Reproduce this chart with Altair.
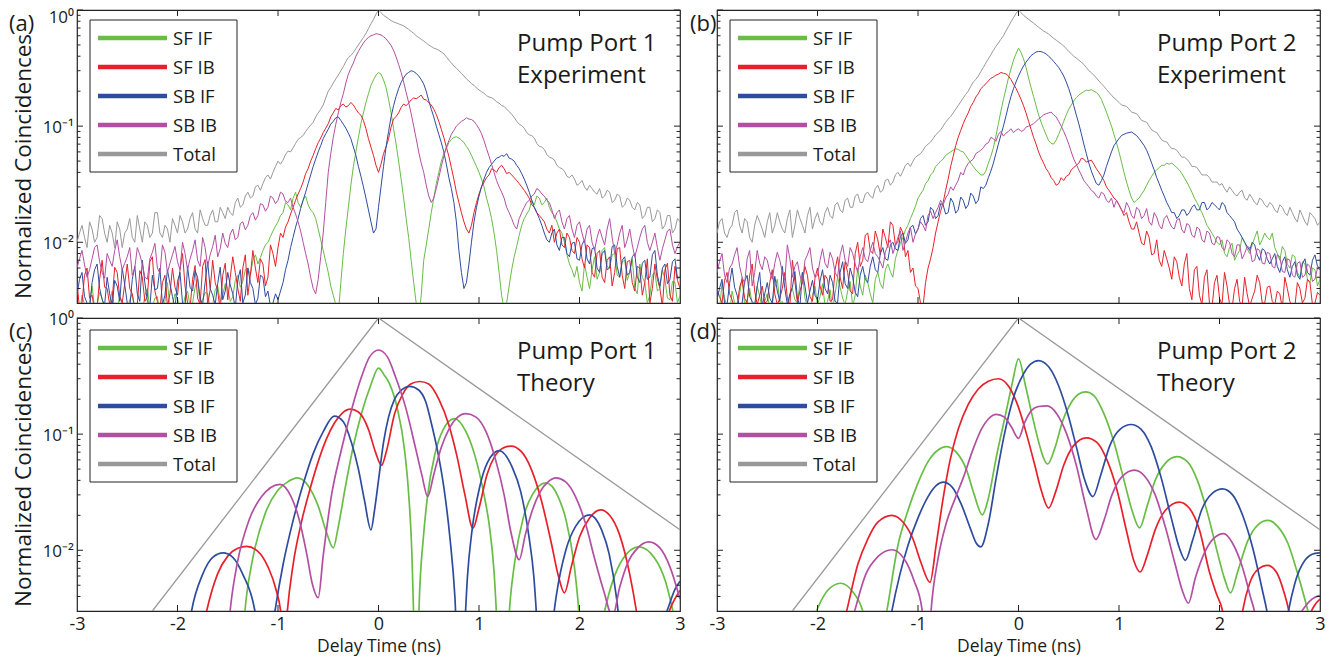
import altair as alt
import pandas as pd

FONT = "Open Sans"
INK = "#1a1a1a"
NAMES = ["SF IF", "SF IB", "SB IF", "SB IB", "Total"]
COLORS = {"SF IF": "#68BD45", "SF IB": "#E8202A", "SB IF": "#2E4C9F",
          "SB IB": "#B34FA2", "Total": "#999999"}

# ---------------- delay-time bins of the measured histograms (ns) ----------------
T_EXP = [-3.0, -2.975, -2.95, -2.925, -2.9, -2.875, -2.85, -2.825, -2.8, -2.775, -2.75, -2.725, -2.7, -2.675, -2.65, -2.625, -2.6, -2.575, -2.55, -2.525,
         -2.5, -2.475, -2.45, -2.425, -2.4, -2.375, -2.35, -2.325, -2.3, -2.275, -2.25, -2.225, -2.2, -2.175, -2.15, -2.125, -2.1, -2.075, -2.05, -2.025,
         -2.0, -1.975, -1.95, -1.925, -1.9, -1.875, -1.85, -1.825, -1.8, -1.775, -1.75, -1.725, -1.7, -1.675, -1.65, -1.625, -1.6, -1.575, -1.55, -1.525,
         -1.5, -1.475, -1.45, -1.425, -1.4, -1.375, -1.35, -1.325, -1.3, -1.275, -1.25, -1.225, -1.2, -1.175, -1.15, -1.125, -1.1, -1.075, -1.05, -1.025,
         -1.0, -0.975, -0.95, -0.925, -0.9, -0.875, -0.85, -0.825, -0.8, -0.775, -0.75, -0.725, -0.7, -0.675, -0.65, -0.625, -0.6, -0.575, -0.55, -0.525,
         -0.5, -0.475, -0.45, -0.425, -0.4, -0.375, -0.35, -0.325, -0.3, -0.275, -0.25, -0.225, -0.2, -0.175, -0.15, -0.125, -0.1, -0.075, -0.05, -0.025,
         0.0, 0.025, 0.05, 0.075, 0.1, 0.125, 0.15, 0.175, 0.2, 0.225, 0.25, 0.275, 0.3, 0.325, 0.35, 0.375, 0.4, 0.425, 0.45, 0.475,
         0.5, 0.525, 0.55, 0.575, 0.6, 0.625, 0.65, 0.675, 0.7, 0.725, 0.75, 0.775, 0.8, 0.825, 0.85, 0.875, 0.9, 0.925, 0.95, 0.975,
         1.0, 1.025, 1.05, 1.075, 1.1, 1.125, 1.15, 1.175, 1.2, 1.225, 1.25, 1.275, 1.3, 1.325, 1.35, 1.375, 1.4, 1.425, 1.45, 1.475,
         1.5, 1.525, 1.55, 1.575, 1.6, 1.625, 1.65, 1.675, 1.7, 1.725, 1.75, 1.775, 1.8, 1.825, 1.85, 1.875, 1.9, 1.925, 1.95, 1.975,
         2.0, 2.025, 2.05, 2.075, 2.1, 2.125, 2.15, 2.175, 2.2, 2.225, 2.25, 2.275, 2.3, 2.325, 2.35, 2.375, 2.4, 2.425, 2.45, 2.475,
         2.5, 2.525, 2.55, 2.575, 2.6, 2.625, 2.65, 2.675, 2.7, 2.725, 2.75, 2.775, 2.8, 2.825, 2.85, 2.875, 2.9, 2.925, 2.95, 2.975,
         3.0]

# ---------------- (a) Pump Port 1, experiment ----------------
A_SFIF = [0.0028, 0.0024, 0.0035, 0.0029, 0.0026, 0.0031, 0.0042, 0.0027, 0.0029, 0.0037, 0.0033, 0.0025, 0.0025, 0.0030, 0.0038, 0.0026, 0.0027, 0.0034, 0.0031, 0.0024,
          0.0026, 0.0032, 0.0036, 0.0025, 0.0029, 0.0027, 0.0025, 0.0035, 0.0040, 0.0026, 0.0028, 0.0033, 0.0034, 0.0024, 0.0026, 0.0031, 0.0045, 0.0027, 0.0029, 0.0036,
          0.0033, 0.0026, 0.0027, 0.0034, 0.0038, 0.0028, 0.0030, 0.0041, 0.0048, 0.0029, 0.0032, 0.0037, 0.0036, 0.0027, 0.0029, 0.0039, 0.0042, 0.0031, 0.0035, 0.0044,
          0.0040, 0.0031, 0.0034, 0.0047, 0.0052, 0.0041, 0.0046, 0.0058, 0.0060, 0.0052, 0.0070, 0.0078, 0.0065, 0.0074, 0.0085, 0.0095, 0.0100, 0.0112, 0.0125, 0.0138,
          0.015, 0.017, 0.018, 0.022, 0.021, 0.019, 0.024, 0.027, 0.022, 0.020, 0.023, 0.025, 0.021, 0.019, 0.018, 0.016, 0.013, 0.0105, 0.0085, 0.0068,
          0.0055, 0.0042, 0.0035, 0.0029, 0.0024, 0.0045, 0.0080, 0.013, 0.020, 0.031, 0.045, 0.060, 0.080, 0.105, 0.130, 0.160, 0.190, 0.225, 0.250, 0.275,
          0.290, 0.280, 0.250, 0.215, 0.170, 0.130, 0.095, 0.070, 0.050, 0.035, 0.024, 0.016, 0.011, 0.0070, 0.0045, 0.0030, 0.0022, 0.0035, 0.0070, 0.0095,
          0.013, 0.018, 0.024, 0.032, 0.040, 0.050, 0.058, 0.064, 0.072, 0.077, 0.080, 0.081, 0.079, 0.076, 0.072, 0.067, 0.062, 0.056, 0.050, 0.045,
          0.040, 0.035, 0.030, 0.024, 0.020, 0.016, 0.012, 0.0085, 0.0055, 0.0035, 0.0026, 0.0030, 0.0042, 0.0058, 0.0075, 0.0092, 0.0115, 0.0140, 0.0160, 0.0175,
          0.019, 0.023, 0.021, 0.025, 0.024, 0.021, 0.022, 0.024, 0.020, 0.018, 0.017, 0.015, 0.013, 0.012, 0.010, 0.0078, 0.0065, 0.0058, 0.0050, 0.0062,
          0.0045, 0.0038, 0.0065, 0.0050, 0.0040, 0.0058, 0.0075, 0.0048, 0.0055, 0.0085, 0.0090, 0.0062, 0.0060, 0.0078, 0.0080, 0.0052, 0.0050, 0.0068, 0.0070, 0.0047,
          0.0055, 0.0072, 0.0040, 0.0036, 0.0065, 0.0050, 0.0045, 0.0030, 0.0035, 0.0052, 0.0055, 0.0038, 0.0040, 0.0058, 0.0048, 0.0033, 0.0032, 0.0046, 0.0045, 0.0030,
          0.0035]
A_SFIB = [0.0045, 0.0027, 0.0030, 0.0052, 0.0060, 0.0033, 0.0035, 0.0026, 0.0028, 0.0048, 0.0070, 0.0041, 0.0040, 0.0029, 0.0032, 0.0061, 0.0055, 0.0034, 0.0030, 0.0044,
          0.0065, 0.0040, 0.0036, 0.0027, 0.0029, 0.0057, 0.0050, 0.0031, 0.0034, 0.0068, 0.0075, 0.0038, 0.0031, 0.0026, 0.0045, 0.0052, 0.0028, 0.0036, 0.0060, 0.0041,
          0.0035, 0.0058, 0.0080, 0.0042, 0.0030, 0.0027, 0.0048, 0.0063, 0.0033, 0.0029, 0.0062, 0.0071, 0.0029, 0.0039, 0.0070, 0.0045, 0.0038, 0.0026, 0.0052, 0.0066,
          0.0032, 0.0050, 0.0075, 0.0055, 0.0040, 0.0031, 0.0060, 0.0078, 0.0035, 0.0052, 0.0085, 0.0060, 0.0045, 0.0072, 0.0065, 0.0042, 0.0050, 0.0095, 0.0080, 0.0062,
          0.0090, 0.0120, 0.0110, 0.0135, 0.0150, 0.0175, 0.0200, 0.0230, 0.0260, 0.0290, 0.0330, 0.0390, 0.0430, 0.0500, 0.0560, 0.0640, 0.0720, 0.0790, 0.0880, 0.0960,
          0.105, 0.120, 0.130, 0.142, 0.138, 0.150, 0.155, 0.146, 0.150, 0.160, 0.152, 0.140, 0.130, 0.124, 0.112, 0.095, 0.078, 0.066, 0.056, 0.046,
          0.040, 0.047, 0.058, 0.066, 0.078, 0.098, 0.115, 0.121, 0.130, 0.145, 0.155, 0.150, 0.158, 0.168, 0.175, 0.172, 0.178, 0.185, 0.170, 0.168,
          0.160, 0.152, 0.140, 0.126, 0.110, 0.094, 0.080, 0.066, 0.055, 0.044, 0.035, 0.027, 0.022, 0.018, 0.015, 0.013, 0.012, 0.014, 0.018, 0.022,
          0.026, 0.030, 0.033, 0.036, 0.038, 0.043, 0.042, 0.040, 0.044, 0.046, 0.043, 0.039, 0.040, 0.038, 0.036, 0.034, 0.032, 0.030, 0.028, 0.026,
          0.024, 0.021, 0.020, 0.018, 0.017, 0.016, 0.015, 0.013, 0.012, 0.014, 0.010, 0.012, 0.013, 0.0095, 0.009, 0.012, 0.011, 0.0085, 0.008, 0.011,
          0.010, 0.0072, 0.006, 0.0095, 0.009, 0.0055, 0.005, 0.0080, 0.0085, 0.0050, 0.0045, 0.0070, 0.0075, 0.0042, 0.0055, 0.0088, 0.0090, 0.0052, 0.0040, 0.0068,
          0.0070, 0.0045, 0.0038, 0.0062, 0.0060, 0.0035, 0.0045, 0.0072, 0.0030, 0.0040, 0.0065, 0.0048, 0.0040, 0.0028, 0.0058, 0.0066, 0.0035, 0.0031, 0.0062, 0.0047,
          0.0040]
A_SBIF = [0.0035, 0.0048, 0.0055, 0.0034, 0.0030, 0.0026, 0.0045, 0.0058, 0.0065, 0.0040, 0.0032, 0.0029, 0.0050, 0.0036, 0.0028, 0.0047, 0.0042, 0.0031, 0.0060, 0.0043,
          0.0030, 0.0027, 0.0048, 0.0062, 0.0036, 0.0031, 0.0070, 0.0045, 0.0031, 0.0028, 0.0052, 0.0039, 0.0040, 0.0060, 0.0029, 0.0035, 0.0058, 0.0044, 0.0034, 0.0027,
          0.0046, 0.0055, 0.0030, 0.0028, 0.0062, 0.0041, 0.0038, 0.0057, 0.0050, 0.0033, 0.0029, 0.0045, 0.0068, 0.0040, 0.0035, 0.0029, 0.0044, 0.0061, 0.0032, 0.0038,
          0.0055, 0.0043, 0.0036, 0.0027, 0.0048, 0.0058, 0.0030, 0.0035, 0.0060, 0.0045, 0.0040, 0.0029, 0.0033, 0.0052, 0.0050, 0.0034, 0.0038, 0.0028, 0.0030, 0.0036,
          0.0032, 0.0038, 0.0045, 0.0058, 0.0070, 0.0090, 0.0110, 0.0135, 0.0160, 0.0195, 0.0230, 0.0270, 0.0320, 0.0380, 0.0450, 0.0520, 0.0600, 0.0680, 0.0780, 0.0860,
          0.094, 0.104, 0.110, 0.118, 0.120, 0.112, 0.104, 0.096, 0.087, 0.078, 0.066, 0.056, 0.045, 0.037, 0.030, 0.024, 0.019, 0.015, 0.012, 0.013,
          0.020, 0.030, 0.045, 0.066, 0.090, 0.120, 0.150, 0.180, 0.210, 0.238, 0.260, 0.280, 0.290, 0.300, 0.295, 0.285, 0.270, 0.252, 0.230, 0.200,
          0.165, 0.140, 0.120, 0.100, 0.085, 0.072, 0.060, 0.047, 0.036, 0.029, 0.022, 0.015, 0.0085, 0.0055, 0.0040, 0.0045, 0.0065, 0.0100, 0.0150, 0.0200,
          0.025, 0.030, 0.035, 0.040, 0.044, 0.047, 0.050, 0.053, 0.054, 0.056, 0.055, 0.058, 0.053, 0.052, 0.050, 0.046, 0.043, 0.039, 0.035, 0.031,
          0.027, 0.023, 0.020, 0.018, 0.016, 0.014, 0.012, 0.0105, 0.010, 0.012, 0.013, 0.0095, 0.0085, 0.011, 0.011, 0.0080, 0.0075, 0.0098, 0.010, 0.0072,
          0.0070, 0.0095, 0.0105, 0.0072, 0.0065, 0.0088, 0.0090, 0.0060, 0.0055, 0.0080, 0.0085, 0.0058, 0.0060, 0.0092, 0.0095, 0.0062, 0.0050, 0.0070, 0.0075, 0.0052,
          0.0055, 0.0075, 0.0080, 0.0050, 0.0045, 0.0066, 0.0070, 0.0048, 0.0050, 0.0078, 0.0085, 0.0052, 0.0042, 0.0060, 0.0065, 0.0044, 0.0048, 0.0068, 0.0072, 0.0049,
          0.0050]
A_SBIB = [0.0060, 0.0072, 0.0085, 0.0064, 0.0050, 0.0058, 0.0072, 0.0090, 0.0095, 0.0068, 0.0055, 0.0049, 0.0080, 0.0070, 0.0062, 0.0085, 0.0105, 0.0075, 0.0058, 0.0066,
          0.0075, 0.0090, 0.0052, 0.0060, 0.0090, 0.0078, 0.0065, 0.0050, 0.0048, 0.0072, 0.0082, 0.0098, 0.0060, 0.0054, 0.0095, 0.0082, 0.0055, 0.0066, 0.0078, 0.0092,
          0.0068, 0.0058, 0.0100, 0.0080, 0.0058, 0.0072, 0.0085, 0.0105, 0.0070, 0.0062, 0.0110, 0.0090, 0.0062, 0.0078, 0.0092, 0.0115, 0.0075, 0.0088, 0.0120, 0.0098,
          0.0090, 0.0118, 0.0130, 0.0105, 0.0110, 0.0145, 0.0150, 0.0128, 0.0140, 0.0170, 0.0180, 0.0155, 0.0170, 0.0215, 0.0210, 0.0185, 0.0200, 0.0250, 0.0240, 0.0215,
          0.0230, 0.0270, 0.0260, 0.0225, 0.0220, 0.0240, 0.0200, 0.0175, 0.0150, 0.0125, 0.0100, 0.0080, 0.0065, 0.0050, 0.0040, 0.0036, 0.0048, 0.0075, 0.0120, 0.0220,
          0.040, 0.058, 0.080, 0.104, 0.130, 0.160, 0.190, 0.235, 0.280, 0.315, 0.350, 0.400, 0.440, 0.480, 0.520, 0.555, 0.580, 0.600, 0.610, 0.625,
          0.620, 0.610, 0.590, 0.565, 0.530, 0.495, 0.450, 0.395, 0.340, 0.290, 0.240, 0.195, 0.160, 0.128, 0.100, 0.078, 0.060, 0.048, 0.040, 0.031,
          0.025, 0.022, 0.024, 0.029, 0.036, 0.045, 0.055, 0.066, 0.075, 0.085, 0.092, 0.100, 0.105, 0.110, 0.113, 0.118, 0.115, 0.114, 0.110, 0.103,
          0.095, 0.086, 0.075, 0.064, 0.055, 0.047, 0.040, 0.034, 0.030, 0.027, 0.024, 0.020, 0.018, 0.016, 0.014, 0.013, 0.016, 0.018, 0.020, 0.022,
          0.023, 0.025, 0.026, 0.029, 0.028, 0.026, 0.025, 0.023, 0.022, 0.019, 0.016, 0.018, 0.019, 0.015, 0.013, 0.016, 0.017, 0.013, 0.011, 0.014,
          0.015, 0.012, 0.010, 0.013, 0.014, 0.010, 0.0085, 0.011, 0.013, 0.011, 0.0095, 0.013, 0.016, 0.011, 0.0080, 0.0095, 0.012, 0.014, 0.0090, 0.0105,
          0.013, 0.0095, 0.0075, 0.0090, 0.011, 0.013, 0.0140, 0.0100, 0.0085, 0.0100, 0.012, 0.0090, 0.0070, 0.0088, 0.0105, 0.0125, 0.0130, 0.0095, 0.0080, 0.0092,
          0.0100]
A_TOTAL = [0.010, 0.012, 0.014, 0.011, 0.009, 0.015, 0.013, 0.010, 0.011, 0.017, 0.016, 0.012, 0.010, 0.014, 0.012, 0.009, 0.015, 0.013, 0.009, 0.012,
           0.013, 0.016, 0.011, 0.010, 0.017, 0.013, 0.010, 0.015, 0.014, 0.011, 0.012, 0.018, 0.018, 0.012, 0.011, 0.014, 0.013, 0.010, 0.016, 0.014,
           0.012, 0.017, 0.015, 0.012, 0.013, 0.016, 0.018, 0.013, 0.012, 0.019, 0.016, 0.014, 0.014, 0.017, 0.019, 0.015, 0.015, 0.020, 0.018, 0.016,
           0.020, 0.018, 0.017, 0.022, 0.024, 0.020, 0.021, 0.025, 0.027, 0.024, 0.025, 0.030, 0.031, 0.028, 0.032, 0.036, 0.038, 0.035, 0.040, 0.045,
           0.050, 0.047, 0.051, 0.057, 0.061, 0.060, 0.065, 0.071, 0.077, 0.080, 0.083, 0.090, 0.096, 0.102, 0.108, 0.120, 0.130, 0.140, 0.152, 0.175,
           0.200, 0.215, 0.235, 0.255, 0.275, 0.300, 0.325, 0.360, 0.390, 0.405, 0.430, 0.465, 0.500, 0.540, 0.580, 0.630, 0.690, 0.760, 0.830, 0.920,
           1.000, 0.950, 0.900, 0.870, 0.840, 0.810, 0.790, 0.775, 0.760, 0.745, 0.730, 0.705, 0.680, 0.655, 0.630, 0.600, 0.580, 0.560, 0.540, 0.520,
           0.500, 0.485, 0.470, 0.462, 0.450, 0.435, 0.420, 0.395, 0.370, 0.350, 0.330, 0.315, 0.300, 0.285, 0.270, 0.255, 0.245, 0.232, 0.225, 0.213,
           0.205, 0.198, 0.192, 0.183, 0.178, 0.176, 0.170, 0.162, 0.158, 0.150, 0.148, 0.140, 0.133, 0.127, 0.119, 0.110, 0.104, 0.101, 0.096, 0.088,
           0.084, 0.083, 0.079, 0.071, 0.067, 0.066, 0.063, 0.057, 0.054, 0.053, 0.051, 0.046, 0.044, 0.043, 0.041, 0.037, 0.036, 0.038, 0.035, 0.031,
           0.032, 0.034, 0.030, 0.028, 0.031, 0.029, 0.027, 0.026, 0.029, 0.024, 0.025, 0.028, 0.027, 0.022, 0.023, 0.026, 0.025, 0.020, 0.021, 0.024,
           0.023, 0.020, 0.019, 0.022, 0.021, 0.016, 0.017, 0.020, 0.020, 0.015, 0.016, 0.019, 0.018, 0.013, 0.014, 0.017, 0.017, 0.012, 0.013, 0.016,
           0.015]

# ---------------- (b) Pump Port 2, experiment ----------------
B_SFIF = [0.0030, 0.0026, 0.0045, 0.0033, 0.0028, 0.0024, 0.0038, 0.0030, 0.0026, 0.0036, 0.0050, 0.0029, 0.0032, 0.0040, 0.0029, 0.0025, 0.0042, 0.0034, 0.0027, 0.0031,
          0.0036, 0.0027, 0.0029, 0.0041, 0.0048, 0.0030, 0.0031, 0.0026, 0.0027, 0.0035, 0.0040, 0.0032, 0.0030, 0.0044, 0.0055, 0.0033, 0.0028, 0.0025, 0.0035, 0.0042,
          0.0029, 0.0034, 0.0044, 0.0028, 0.0031, 0.0039, 0.0027, 0.0036, 0.0050, 0.0041, 0.0033, 0.0029, 0.0038, 0.0046, 0.0028, 0.0035, 0.0060, 0.0042, 0.0035, 0.0052,
          0.0045, 0.0036, 0.0030, 0.0048, 0.0055, 0.0044, 0.0040, 0.0058, 0.0065, 0.0056, 0.0050, 0.0072, 0.0085, 0.0098, 0.0110, 0.0128, 0.0140, 0.0160, 0.0180, 0.0205,
          0.024, 0.026, 0.028, 0.032, 0.034, 0.038, 0.040, 0.045, 0.047, 0.050, 0.052, 0.056, 0.058, 0.060, 0.062, 0.064, 0.063, 0.061, 0.060, 0.056,
          0.052, 0.048, 0.045, 0.042, 0.040, 0.038, 0.038, 0.041, 0.048, 0.055, 0.065, 0.082, 0.105, 0.135, 0.170, 0.210, 0.260, 0.310, 0.370, 0.420,
          0.470, 0.430, 0.380, 0.320, 0.260, 0.215, 0.180, 0.150, 0.125, 0.108, 0.095, 0.084, 0.075, 0.071, 0.070, 0.076, 0.085, 0.096, 0.110, 0.125,
          0.140, 0.152, 0.165, 0.176, 0.185, 0.192, 0.198, 0.204, 0.203, 0.206, 0.200, 0.195, 0.185, 0.170, 0.150, 0.132, 0.115, 0.100, 0.085, 0.072,
          0.060, 0.049, 0.040, 0.033, 0.028, 0.024, 0.022, 0.023, 0.024, 0.026, 0.028, 0.031, 0.034, 0.037, 0.040, 0.042, 0.044, 0.046, 0.046, 0.048,
          0.047, 0.048, 0.046, 0.044, 0.042, 0.039, 0.036, 0.033, 0.030, 0.027, 0.024, 0.022, 0.020, 0.018, 0.016, 0.014, 0.013, 0.012, 0.011, 0.0100,
          0.0095, 0.0105, 0.0080, 0.0075, 0.0090, 0.0098, 0.0070, 0.0078, 0.0085, 0.0110, 0.0100, 0.0088, 0.0080, 0.0095, 0.0110, 0.0125, 0.0095, 0.0105, 0.0120, 0.0110,
          0.0105, 0.0120, 0.0090, 0.0080, 0.0070, 0.0092, 0.0085, 0.0065, 0.0060, 0.0078, 0.0075, 0.0055, 0.0050, 0.0068, 0.0065, 0.0048, 0.0045, 0.0060, 0.0058, 0.0042,
          0.0048]
B_SFIB = [0.0040, 0.0034, 0.0030, 0.0047, 0.0055, 0.0036, 0.0032, 0.0027, 0.0028, 0.0041, 0.0048, 0.0033, 0.0030, 0.0052, 0.0065, 0.0038, 0.0029, 0.0035, 0.0042, 0.0030,
          0.0031, 0.0045, 0.0058, 0.0036, 0.0029, 0.0033, 0.0040, 0.0055, 0.0033, 0.0028, 0.0070, 0.0046, 0.0030, 0.0038, 0.0045, 0.0062, 0.0052, 0.0034, 0.0031, 0.0049,
          0.0060, 0.0042, 0.0035, 0.0052, 0.0048, 0.0031, 0.0032, 0.0058, 0.0075, 0.0050, 0.0040, 0.0068, 0.0055, 0.0038, 0.0036, 0.0080, 0.0100, 0.0062, 0.0070, 0.0115,
          0.0120, 0.0085, 0.0080, 0.0125, 0.0105, 0.0078, 0.0130, 0.0110, 0.0090, 0.0150, 0.0140, 0.0095, 0.0100, 0.0135, 0.0120, 0.0075, 0.0085, 0.0055, 0.0060, 0.0042,
          0.0040, 0.0030, 0.0028, 0.0045, 0.0060, 0.0072, 0.0090, 0.0120, 0.0150, 0.0185, 0.0220, 0.0280, 0.0350, 0.0450, 0.0550, 0.0680, 0.0800, 0.0920, 0.1050, 0.1180,
          0.130, 0.148, 0.160, 0.178, 0.190, 0.210, 0.220, 0.232, 0.245, 0.258, 0.265, 0.275, 0.280, 0.290, 0.285, 0.282, 0.270, 0.252, 0.230, 0.212,
          0.190, 0.170, 0.150, 0.130, 0.110, 0.094, 0.080, 0.070, 0.060, 0.053, 0.048, 0.043, 0.040, 0.036, 0.034, 0.031, 0.032, 0.036, 0.034, 0.037,
          0.038, 0.042, 0.044, 0.046, 0.048, 0.053, 0.052, 0.049, 0.050, 0.051, 0.047, 0.043, 0.040, 0.037, 0.034, 0.030, 0.028, 0.026, 0.024, 0.023,
          0.021, 0.019, 0.017, 0.018, 0.015, 0.013, 0.013, 0.015, 0.012, 0.0098, 0.0095, 0.0125, 0.0110, 0.0078, 0.0080, 0.0105, 0.0070, 0.0062, 0.0085, 0.0072,
          0.0060, 0.0048, 0.0075, 0.0068, 0.0050, 0.0042, 0.0065, 0.0080, 0.0040, 0.0032, 0.0058, 0.0062, 0.0035, 0.0029, 0.0050, 0.0058, 0.0030, 0.0027, 0.0045, 0.0052,
          0.0033, 0.0029, 0.0055, 0.0042, 0.0029, 0.0027, 0.0040, 0.0048, 0.0031, 0.0028, 0.0050, 0.0036, 0.0028, 0.0033, 0.0038, 0.0052, 0.0045, 0.0030, 0.0030, 0.0041,
          0.0042, 0.0031, 0.0029, 0.0038, 0.0036, 0.0027, 0.0050, 0.0040, 0.0031, 0.0028, 0.0028, 0.0045, 0.0040, 0.0030, 0.0033, 0.0048, 0.0045, 0.0029, 0.0030, 0.0037,
          0.0035]
B_SBIF = [0.0032, 0.0040, 0.0048, 0.0030, 0.0029, 0.0044, 0.0060, 0.0041, 0.0035, 0.0027, 0.0030, 0.0046, 0.0052, 0.0034, 0.0031, 0.0029, 0.0042, 0.0055, 0.0028, 0.0036,
          0.0045, 0.0033, 0.0030, 0.0051, 0.0038, 0.0031, 0.0062, 0.0040, 0.0029, 0.0036, 0.0041, 0.0056, 0.0033, 0.0028, 0.0055, 0.0042, 0.0030, 0.0038, 0.0047, 0.0035,
          0.0032, 0.0046, 0.0058, 0.0040, 0.0036, 0.0052, 0.0045, 0.0031, 0.0030, 0.0055, 0.0068, 0.0044, 0.0040, 0.0060, 0.0050, 0.0037, 0.0034, 0.0052, 0.0062, 0.0048,
          0.0045, 0.0062, 0.0075, 0.0058, 0.0055, 0.0080, 0.0090, 0.0072, 0.0070, 0.0095, 0.0100, 0.0088, 0.0085, 0.0112, 0.0120, 0.0098, 0.0105, 0.0135, 0.0140, 0.0118,
          0.0130, 0.0160, 0.0170, 0.0140, 0.0150, 0.0200, 0.0190, 0.0160, 0.0170, 0.0215, 0.0210, 0.0175, 0.0180, 0.0240, 0.0220, 0.0178, 0.0190, 0.0245, 0.0230, 0.0195,
          0.0210, 0.0265, 0.0250, 0.0215, 0.0230, 0.0300, 0.0290, 0.0310, 0.0360, 0.0410, 0.0480, 0.0580, 0.0700, 0.0840, 0.1000, 0.1220, 0.1500, 0.1800, 0.2100, 0.2400,
          0.270, 0.300, 0.330, 0.355, 0.380, 0.405, 0.420, 0.435, 0.440, 0.438, 0.430, 0.418, 0.400, 0.382, 0.360, 0.340, 0.320, 0.295, 0.270, 0.240,
          0.210, 0.180, 0.150, 0.125, 0.105, 0.086, 0.070, 0.058, 0.048, 0.041, 0.036, 0.032, 0.031, 0.034, 0.038, 0.045, 0.052, 0.060, 0.068, 0.073,
          0.078, 0.083, 0.085, 0.087, 0.088, 0.089, 0.086, 0.083, 0.078, 0.073, 0.068, 0.062, 0.055, 0.048, 0.042, 0.036, 0.032, 0.028, 0.025, 0.022,
          0.020, 0.018, 0.018, 0.016, 0.017, 0.019, 0.019, 0.017, 0.018, 0.020, 0.021, 0.019, 0.019, 0.022, 0.022, 0.019, 0.020, 0.022, 0.021, 0.020,
          0.019, 0.022, 0.021, 0.018, 0.017, 0.016, 0.015, 0.013, 0.012, 0.011, 0.010, 0.0092, 0.0085, 0.0100, 0.0095, 0.0078, 0.0070, 0.0088, 0.0085, 0.0072,
          0.0065, 0.0072, 0.0080, 0.0062, 0.0055, 0.0068, 0.0075, 0.0058, 0.0050, 0.0062, 0.0068, 0.0052, 0.0048, 0.0065, 0.0072, 0.0055, 0.0052, 0.0070, 0.0078, 0.0062,
          0.0060]
B_SBIB = [0.0055, 0.0068, 0.0080, 0.0052, 0.0045, 0.0060, 0.0065, 0.0078, 0.0090, 0.0062, 0.0050, 0.0044, 0.0072, 0.0085, 0.0042, 0.0055, 0.0085, 0.0066, 0.0058, 0.0075,
          0.0070, 0.0056, 0.0048, 0.0066, 0.0082, 0.0070, 0.0055, 0.0047, 0.0095, 0.0072, 0.0050, 0.0062, 0.0068, 0.0052, 0.0044, 0.0070, 0.0078, 0.0090, 0.0060, 0.0050,
          0.0052, 0.0070, 0.0088, 0.0066, 0.0060, 0.0082, 0.0072, 0.0055, 0.0050, 0.0078, 0.0095, 0.0070, 0.0062, 0.0090, 0.0080, 0.0065, 0.0055, 0.0075, 0.0090, 0.0072,
          0.0068, 0.0085, 0.0100, 0.0080, 0.0075, 0.0068, 0.0060, 0.0082, 0.0095, 0.0105, 0.0080, 0.0092, 0.0110, 0.0125, 0.0085, 0.0100, 0.0120, 0.0135, 0.0100, 0.0118,
          0.0130, 0.0150, 0.0140, 0.0125, 0.0170, 0.0185, 0.0160, 0.0180, 0.0200, 0.0230, 0.0210, 0.0240, 0.0260, 0.0300, 0.0280, 0.0310, 0.0340, 0.0400, 0.0380, 0.0440,
          0.0480, 0.0500, 0.0520, 0.0580, 0.0600, 0.0620, 0.0650, 0.0700, 0.0720, 0.0800, 0.0780, 0.0740, 0.0850, 0.0900, 0.0820, 0.0870, 0.0900, 0.0950, 0.0880, 0.0920,
          0.0950, 0.0900, 0.0920, 0.0980, 0.1000, 0.1020, 0.1050, 0.1100, 0.1150, 0.1200, 0.1250, 0.1280, 0.1300, 0.1320, 0.1250, 0.1200, 0.1100, 0.1000, 0.0900, 0.0800,
          0.0700, 0.0600, 0.0520, 0.0470, 0.0420, 0.0380, 0.0340, 0.0320, 0.0300, 0.0280, 0.0270, 0.0250, 0.0240, 0.0270, 0.0260, 0.0230, 0.0220, 0.0240, 0.0200, 0.0230,
          0.0210, 0.0190, 0.0180, 0.0220, 0.0200, 0.0170, 0.0160, 0.0200, 0.0190, 0.0160, 0.0170, 0.0195, 0.0150, 0.0140, 0.0180, 0.0165, 0.0140, 0.0130, 0.0160, 0.0170,
          0.0150, 0.0135, 0.0130, 0.0155, 0.0160, 0.0128, 0.0120, 0.0145, 0.0140, 0.0115, 0.0110, 0.0135, 0.0130, 0.0105, 0.0100, 0.0125, 0.0120, 0.0098, 0.0095, 0.0112,
          0.0110, 0.0090, 0.0085, 0.0105, 0.0100, 0.0080, 0.0075, 0.0095, 0.0095, 0.0072, 0.0080, 0.0092, 0.0090, 0.0068, 0.0070, 0.0088, 0.0085, 0.0066, 0.0065, 0.0082,
          0.0080, 0.0062, 0.0060, 0.0078, 0.0075, 0.0056, 0.0055, 0.0072, 0.0070, 0.0052, 0.0050, 0.0066, 0.0068, 0.0050, 0.0052, 0.0065, 0.0062, 0.0046, 0.0048, 0.0060,
          0.0058]
B_TOTAL = [0.012, 0.015, 0.016, 0.012, 0.011, 0.013, 0.014, 0.018, 0.019, 0.014, 0.012, 0.016, 0.015, 0.011, 0.010, 0.014, 0.017, 0.015, 0.013, 0.011,
           0.015, 0.018, 0.012, 0.014, 0.018, 0.015, 0.013, 0.012, 0.016, 0.019, 0.011, 0.014, 0.019, 0.016, 0.014, 0.012, 0.017, 0.020, 0.013, 0.016,
           0.018, 0.015, 0.014, 0.018, 0.020, 0.017, 0.016, 0.021, 0.022, 0.019, 0.018, 0.023, 0.024, 0.020, 0.020, 0.025, 0.026, 0.022, 0.022, 0.026,
           0.027, 0.025, 0.024, 0.029, 0.031, 0.027, 0.028, 0.034, 0.035, 0.031, 0.033, 0.038, 0.040, 0.037, 0.041, 0.046, 0.048, 0.045, 0.050, 0.054,
           0.056, 0.058, 0.062, 0.067, 0.070, 0.073, 0.078, 0.084, 0.088, 0.093, 0.100, 0.108, 0.115, 0.121, 0.130, 0.140, 0.150, 0.162, 0.175, 0.188,
           0.200, 0.220, 0.240, 0.252, 0.270, 0.295, 0.320, 0.350, 0.380, 0.412, 0.450, 0.485, 0.520, 0.560, 0.600, 0.660, 0.720, 0.790, 0.860, 0.930,
           1.000, 0.950, 0.900, 0.865, 0.830, 0.800, 0.770, 0.740, 0.710, 0.685, 0.660, 0.640, 0.620, 0.595, 0.570, 0.550, 0.530, 0.510, 0.490, 0.465,
           0.440, 0.420, 0.400, 0.385, 0.370, 0.355, 0.340, 0.320, 0.300, 0.288, 0.275, 0.260, 0.245, 0.232, 0.220, 0.207, 0.195, 0.185, 0.175, 0.168,
           0.160, 0.152, 0.150, 0.148, 0.140, 0.132, 0.130, 0.128, 0.120, 0.112, 0.110, 0.108, 0.100, 0.093, 0.090, 0.088, 0.082, 0.076, 0.074, 0.073,
           0.068, 0.064, 0.064, 0.062, 0.058, 0.054, 0.054, 0.052, 0.049, 0.045, 0.045, 0.044, 0.041, 0.038, 0.038, 0.038, 0.036, 0.033, 0.033, 0.033,
           0.031, 0.032, 0.029, 0.027, 0.030, 0.028, 0.026, 0.025, 0.027, 0.028, 0.024, 0.023, 0.026, 0.024, 0.022, 0.021, 0.024, 0.023, 0.021, 0.020,
           0.022, 0.021, 0.019, 0.018, 0.021, 0.020, 0.018, 0.017, 0.020, 0.018, 0.016, 0.015, 0.019, 0.017, 0.015, 0.014, 0.018, 0.017, 0.016, 0.014,
           0.015]

# ---------------- (c) Pump Port 1, theory: (delay ns, coincidences) ----------------
C_SFIF = [(-1.44, 0.0003), (-1.377, 0.0010), (-1.314, 0.0040), (-1.25, 0.0086), (-1.125, 0.021),
          (-1.0, 0.033), (-0.9, 0.039), (-0.81, 0.042), (-0.7, 0.036), (-0.6, 0.024), (-0.52, 0.0145),
          (-0.45, 0.0105), (-0.40, 0.016), (-0.33, 0.035), (-0.25, 0.079), (-0.17, 0.15), (-0.08, 0.26),
          (0.0, 0.37), (0.06, 0.32), (0.111, 0.27), (0.185, 0.17), (0.26, 0.072), (0.296, 0.034),
          (0.333, 0.009), (0.352, 0.0023), (0.37, 0.0003), (0.389, 0.0008), (0.404, 0.0033),
          (0.447, 0.013), (0.485, 0.028), (0.5625, 0.068), (0.64, 0.108), (0.755, 0.136), (0.87, 0.105),
          (0.96, 0.065), (1.05, 0.03), (1.104, 0.016), (1.15, 0.0065), (1.18, 0.0022), (1.22, 0.0003),
          (1.265, 0.0009), (1.309, 0.0036), (1.354, 0.0078), (1.44, 0.019), (1.53, 0.030), (1.665, 0.038),
          (1.787, 0.029), (1.8675, 0.018), (1.949, 0.0072), (1.989, 0.0033), (2.03, 0.0009), (2.07, 0.0003),
          (2.12, 0.0005), (2.17, 0.0013), (2.226, 0.0024), (2.33, 0.0054), (2.434, 0.0085), (2.59, 0.0107),
          (2.75, 0.0085), (2.855, 0.0054), (2.93, 0.003), (3.0, 0.0016)]
C_SFIB = [(-1.8, 0.0012), (-1.71, 0.003), (-1.6, 0.0063), (-1.5, 0.0089), (-1.4, 0.0104), (-1.31, 0.0108),
          (-1.2, 0.0098), (-1.1, 0.0072), (-1.02, 0.0046), (-0.97, 0.0028), (-0.94, 0.0012), (-0.91, 0.0028),
          (-0.85, 0.0075), (-0.77, 0.017), (-0.68, 0.034), (-0.6, 0.058), (-0.52, 0.09), (-0.44, 0.124),
          (-0.36, 0.152), (-0.28, 0.164), (-0.2, 0.155), (-0.1, 0.11), (-0.03, 0.07), (0.03, 0.054),
          (0.08, 0.072), (0.16, 0.15), (0.24, 0.22), (0.32, 0.27), (0.41, 0.284), (0.5, 0.27), (0.6, 0.2),
          (0.7, 0.12), (0.78, 0.065), (0.86, 0.03), (0.94, 0.0155), (1.0, 0.023), (1.08, 0.045),
          (1.16, 0.065), (1.24, 0.076), (1.32, 0.079), (1.42, 0.071), (1.52, 0.05), (1.62, 0.027),
          (1.72, 0.0115), (1.79, 0.006), (1.85, 0.0043), (1.92, 0.0073), (2.0, 0.013), (2.1, 0.019),
          (2.21, 0.0223), (2.3, 0.02), (2.4, 0.0135), (2.5, 0.0062), (2.58, 0.0025), (2.67, 0.0006),
          (2.75, 0.0009), (2.82, 0.0019), (2.9, 0.0031), (3.0, 0.0045)]
C_SBIF = [(-1.95, 0.0008), (-1.86, 0.003), (-1.75, 0.0062), (-1.65, 0.0087), (-1.545, 0.0095),
          (-1.45, 0.0087), (-1.35, 0.0062), (-1.23, 0.003), (-1.18, 0.0015), (-1.13, 0.0004),
          (-1.08, 0.0015), (-1.03, 0.003), (-0.95, 0.0075), (-0.85, 0.018), (-0.75, 0.037), (-0.65, 0.068),
          (-0.55, 0.105), (-0.44, 0.143), (-0.35, 0.128), (-0.27, 0.085), (-0.2, 0.05), (-0.14, 0.027),
          (-0.075, 0.015), (-0.04, 0.022), (0.0, 0.04), (0.05, 0.085), (0.1, 0.14), (0.16, 0.2),
          (0.23, 0.24), (0.31, 0.258), (0.4, 0.24), (0.47, 0.19), (0.53, 0.12), (0.59, 0.07), (0.65, 0.035),
          (0.71, 0.013), (0.76, 0.004), (0.815, 0.0003), (0.85, 0.0015), (0.885, 0.0059), (0.93, 0.0147),
          (1.01, 0.036), (1.085, 0.057), (1.2, 0.072), (1.33, 0.052), (1.415, 0.032), (1.5, 0.0126),
          (1.545, 0.006), (1.59, 0.0015), (1.63, 0.0003), (1.68, 0.0009), (1.72, 0.0019), (1.77, 0.0041),
          (1.865, 0.0101), (1.96, 0.016), (2.1, 0.0202), (2.22, 0.015), (2.295, 0.0093), (2.37, 0.0038),
          (2.41, 0.0018), (2.49, 0.0003), (2.6, 0.0008), (2.75, 0.0018), (2.87, 0.003), (2.95, 0.0046),
          (3.0, 0.0054)]
C_SBIB = [(-1.59, 0.0003), (-1.53, 0.0009), (-1.468, 0.0035), (-1.407, 0.0076), (-1.285, 0.0185),
          (-1.163, 0.029), (-0.98, 0.037), (-0.87, 0.029), (-0.79, 0.0185), (-0.714, 0.0093), (-0.66, 0.0052),
          (-0.6, 0.0039), (-0.55, 0.009), (-0.47, 0.029), (-0.37, 0.073), (-0.27, 0.16), (-0.17, 0.31),
          (-0.09, 0.46), (0.0, 0.53), (0.09, 0.46), (0.17, 0.31), (0.27, 0.17), (0.37, 0.075), (0.43, 0.045),
          (0.49, 0.029), (0.55, 0.045), (0.62, 0.075), (0.7, 0.11), (0.78, 0.138), (0.87, 0.15), (0.97, 0.14),
          (1.07, 0.105), (1.17, 0.058), (1.25, 0.03), (1.32, 0.014), (1.4, 0.0083), (1.46, 0.0135),
          (1.53, 0.022), (1.61, 0.032), (1.69, 0.039), (1.765, 0.042), (1.86, 0.039), (1.96, 0.029),
          (2.06, 0.017), (2.15, 0.0085), (2.24, 0.0045), (2.33, 0.0027), (2.4, 0.0048), (2.48, 0.0078),
          (2.58, 0.0105), (2.69, 0.0118), (2.8, 0.0105), (2.9, 0.0072), (3.0, 0.0038)]
C_TOTAL = [(-2.25, 0.003), (0.0, 1.0), (3.0, 0.015)]

# ---------------- (d) Pump Port 2, theory ----------------
D_SFIF = [(-2.1, 0.0018), (-2.01, 0.003), (-1.9, 0.0045), (-1.77, 0.0052), (-1.65, 0.0044), (-1.55, 0.003),
          (-1.48, 0.0016), (-1.43, 0.0005), (-1.37, 0.0016), (-1.31, 0.003), (-1.2, 0.011), (-1.1, 0.022),
          (-1.0, 0.038), (-0.9, 0.058), (-0.8, 0.073), (-0.72, 0.078), (-0.62, 0.07), (-0.52, 0.05),
          (-0.44, 0.03), (-0.36, 0.0202), (-0.3, 0.028), (-0.22, 0.064), (-0.12, 0.16), (-0.06, 0.28),
          (0.0, 0.445), (0.07, 0.26), (0.14, 0.14), (0.21, 0.08), (0.25, 0.062), (0.29, 0.0553), (0.36, 0.075),
          (0.44, 0.13), (0.53, 0.19), (0.6, 0.222), (0.668, 0.231), (0.75, 0.215), (0.85, 0.15), (0.95, 0.085),
          (1.05, 0.04), (1.13, 0.022), (1.205, 0.0156), (1.28, 0.024), (1.36, 0.04), (1.46, 0.056),
          (1.576, 0.064), (1.68, 0.058), (1.78, 0.04), (1.88, 0.021), (1.98, 0.0095), (2.05, 0.0057),
          (2.11, 0.0043), (2.18, 0.0065), (2.28, 0.012), (2.38, 0.0165), (2.48, 0.0181), (2.58, 0.016),
          (2.68, 0.0115), (2.78, 0.0062), (2.88, 0.003), (2.95, 0.0017), (3.0, 0.001)]
D_SFIB = [(-1.8, 0.0015), (-1.71, 0.003), (-1.6, 0.0075), (-1.5, 0.0125), (-1.4, 0.0175), (-1.26, 0.020),
          (-1.15, 0.0175), (-1.05, 0.0125), (-0.97, 0.0078), (-0.88, 0.0053), (-0.82, 0.011), (-0.75, 0.028),
          (-0.68, 0.06), (-0.6, 0.11), (-0.5, 0.18), (-0.4, 0.245), (-0.3, 0.285), (-0.2, 0.30), (-0.1, 0.26),
          (0.0, 0.17), (0.08, 0.1), (0.16, 0.055), (0.23, 0.032), (0.3, 0.0231), (0.37, 0.032), (0.45, 0.054),
          (0.55, 0.08), (0.675, 0.093), (0.78, 0.085), (0.88, 0.06), (0.98, 0.033), (1.08, 0.014),
          (1.15, 0.008), (1.21, 0.0065), (1.28, 0.009), (1.36, 0.015), (1.46, 0.022), (1.6, 0.026),
          (1.7, 0.023), (1.8, 0.015), (1.9, 0.0065), (1.97, 0.0042), (2.03, 0.003), (2.08, 0.0015),
          (2.13, 0.0004), (2.18, 0.0015), (2.23, 0.003), (2.3, 0.0052), (2.38, 0.0068), (2.48, 0.0074),
          (2.57, 0.0064), (2.64, 0.0044), (2.69, 0.003), (2.74, 0.0015), (2.79, 0.0004), (2.84, 0.0015),
          (2.89, 0.0026), (2.95, 0.0034), (3.0, 0.0038)]
D_SBIF = [(-1.32, 0.0015), (-1.26, 0.003), (-1.18, 0.0062), (-1.1, 0.011), (-1.0, 0.019), (-0.9, 0.029),
          (-0.82, 0.036), (-0.75, 0.0386), (-0.66, 0.035), (-0.57, 0.025), (-0.48, 0.0155), (-0.42, 0.0115),
          (-0.375, 0.0107), (-0.3, 0.017), (-0.22, 0.043), (-0.14, 0.1), (-0.055, 0.2), (0.05, 0.33),
          (0.12, 0.4), (0.2, 0.43), (0.3, 0.38), (0.4, 0.26), (0.5, 0.14), (0.58, 0.075), (0.66, 0.04),
          (0.74, 0.029), (0.82, 0.045), (0.91, 0.08), (1.01, 0.11), (1.12, 0.121), (1.22, 0.11), (1.32, 0.078),
          (1.42, 0.042), (1.52, 0.019), (1.6, 0.0105), (1.66, 0.0082), (1.73, 0.012), (1.82, 0.022),
          (1.93, 0.031), (2.03, 0.0338), (2.13, 0.03), (2.23, 0.02), (2.33, 0.0105), (2.42, 0.0048),
          (2.5, 0.0022), (2.58, 0.0006), (2.66, 0.0022), (2.75, 0.0052), (2.85, 0.0082), (2.95, 0.0094),
          (3.0, 0.0095)]
D_SBIB = [(-1.72, 0.0015), (-1.63, 0.003), (-1.52, 0.0062), (-1.4, 0.0088), (-1.26, 0.0101), (-1.14, 0.0085),
          (-1.04, 0.0055), (-0.96, 0.0031), (-0.91, 0.0008), (-0.87, 0.003), (-0.8, 0.0085), (-0.72, 0.017),
          (-0.63, 0.028), (-0.55, 0.042), (-0.45, 0.075), (-0.37, 0.11), (-0.3, 0.135), (-0.22, 0.148),
          (-0.14, 0.14), (-0.07, 0.115), (0.0, 0.092), (0.06, 0.125), (0.13, 0.16), (0.2, 0.173),
          (0.283, 0.175), (0.38, 0.15), (0.48, 0.1), (0.58, 0.052), (0.67, 0.024), (0.77, 0.0124),
          (0.85, 0.018), (0.93, 0.03), (1.03, 0.043), (1.153, 0.049), (1.26, 0.043), (1.36, 0.03),
          (1.46, 0.016), (1.56, 0.0075), (1.63, 0.0045), (1.69, 0.0035), (1.76, 0.0058), (1.85, 0.0095),
          (1.94, 0.0126), (2.04, 0.0139), (2.13, 0.0115), (2.22, 0.0075), (2.3, 0.0042), (2.38, 0.002),
          (2.43, 0.0006), (2.5, 0.0008), (2.6, 0.0012), (2.72, 0.0021), (2.82, 0.003), (2.92, 0.0038),
          (3.0, 0.0041)]
D_TOTAL = [(-2.25, 0.003), (0.0, 1.0), (3.0, 0.015)]

# ---------------- axes furniture ----------------
X_TICKS = [-2, -1, 0, 1, 2]
X_LABELS = [-3, -2, -1, 0, 1, 2, 3]
Y_MAJOR = [1, 0.1, 0.01]
Y_TEXT = ["10\u2070", "10\u207b\u00b9", "10\u207b\u00b2"]
Y_MINOR = [0.004, 0.005, 0.006, 0.007, 0.008, 0.009,
           0.02, 0.03, 0.04, 0.05, 0.06, 0.07, 0.08, 0.09,
           0.2, 0.3, 0.4, 0.5, 0.6, 0.7, 0.8, 0.9]

for s in (A_SFIF, A_SFIB, A_SBIF, A_SBIB, A_TOTAL, B_SFIF, B_SFIB, B_SBIF, B_SBIB, B_TOTAL):
    assert len(s) == len(T_EXP), len(s)

W, H = 603, 293
XS = alt.Scale(domain=[-3, 3], nice=False, zero=False)
YS = alt.Scale(type="log", domain=[0.003, 1], nice=False)
ONE = pd.DataFrame({"k": [0]})


def make_panel(series, theory, caption, letter, letter_x, left, bottom, top_row):
    if bottom:
        xaxis = alt.Axis(values=X_LABELS, labelExpr="'' + datum.value", ticks=False, domain=False,
                         grid=False, labelFont=FONT, labelFontSize=18, labelColor=INK,
                         labelPadding=4, labelFlush=False, title="Delay Time (ns)", titleFont=FONT,
                         titleFontSize=17.5, titleFontWeight="normal", titleColor=INK, titlePadding=4)
    else:
        xaxis = None

    def X():
        return alt.X("t:Q", scale=XS, axis=xaxis)

    def Y():
        return alt.Y("v:Q", scale=YS, axis=None)

    layers = []
    for name, df in series:
        if theory:
            sw = 1.3 if name == "Total" else 1.7
            interp = "linear" if name == "Total" else "monotone"
        else:
            sw, interp = 1.0, "linear"
        layers.append(alt.Chart(df).mark_line(color=COLORS[name], strokeWidth=sw,
                                              interpolate=interp, clip=True)
                      .encode(x=X(), y=Y()))

    # inward ticks on all four sides
    xt = pd.DataFrame({"t": X_TICKS})
    for y0, y1 in [(H, H - 6), (0, 6)]:
        layers.append(alt.Chart(xt).mark_rule(color="#222", strokeWidth=1)
                      .encode(x=X(), y=alt.value(y0), y2=alt.value(y1)))
    for vals, ln in [(Y_MAJOR, 6), (Y_MINOR, 3.5)]:
        yt = pd.DataFrame({"v": vals})
        for x0, x1 in [(0, ln), (W, W - ln)]:
            layers.append(alt.Chart(yt).mark_rule(color="#222", strokeWidth=1)
                          .encode(y=Y(), x=alt.value(x0), x2=alt.value(x1)))

    # legend box
    off = 2 if theory else 0
    layers.append(alt.Chart(ONE).mark_rect(fill="white", stroke="#222", strokeWidth=1)
                  .encode(x=alt.value(13), x2=alt.value(160), y=alt.value(10 + off),
                          y2=alt.value(162 + off)))
    for i, name in enumerate(NAMES):
        yy = 28 + off + 29 * i
        layers.append(alt.Chart(ONE).mark_rule(color=COLORS[name], strokeWidth=4.5)
                      .encode(x=alt.value(21), x2=alt.value(90), y=alt.value(yy)))
        layers.append(alt.Chart(ONE).mark_text(text=name, font=FONT, fontSize=18.5, align="left",
                                               baseline="middle", color=INK)
                      .encode(x=alt.value(96), y=alt.value(yy + 1)))

    # captions
    for j, line in enumerate(caption):
        layers.append(alt.Chart(ONE).mark_text(text=line, font=FONT, fontSize=24, align="left",
                                               baseline="alphabetic", color=INK)
                      .encode(x=alt.value(440), y=alt.value(41 + 32 * j)))
    layers.append(alt.Chart(ONE).mark_text(text=letter, font=FONT, fontSize=22, align="left",
                                           baseline="alphabetic", color=INK)
                  .encode(x=alt.value(letter_x), y=alt.value(21)))

    if left:
        ydf = pd.DataFrame({"v": Y_MAJOR, "lab": Y_TEXT})
        if top_row:
            groups = [(ydf.iloc[:1], 8), (ydf.iloc[1:], 1.5)]
        else:
            groups = [(ydf, 1.5)]
        for sub, dyy in groups:
            layers.append(alt.Chart(sub).mark_text(font=FONT, fontSize=17, align="right",
                                                   baseline="middle", dy=dyy, color=INK)
                          .encode(y=Y(), x=alt.value(-3), text="lab:N"))
        layers.append(alt.Chart(ONE).mark_text(text="Normalized Coincidences", font=FONT,
                                               fontSize=22.5, angle=270, align="center",
                                               baseline="middle", color=INK)
                      .encode(x=alt.value(-53), y=alt.value(H / 2 + 10)))

    return alt.layer(*layers).properties(width=W, height=H)


def exp_series(sfif, sfib, sbif, sbib, total):
    out = []
    for name, v in zip(NAMES, [sfif, sfib, sbif, sbib, total]):
        out.append((name, pd.DataFrame({"t": T_EXP, "v": v})))
    return out


def th_series(sfif, sfib, sbif, sbib, total):
    out = []
    for name, pts in zip(["Total"] + NAMES[:4], [total, sfif, sfib, sbif, sbib]):
        out.append((name, pd.DataFrame(pts, columns=["t", "v"])))
    return out


pa = make_panel(exp_series(A_SFIF, A_SFIB, A_SBIF, A_SBIB, A_TOTAL), False,
                ["Pump Port 1", "Experiment"], "(a)", -68, True, False, True)
pb = make_panel(exp_series(B_SFIF, B_SFIB, B_SBIF, B_SBIB, B_TOTAL), False,
                ["Pump Port 2", "Experiment"], "(b)", -27, False, False, True)
pc = make_panel(th_series(C_SFIF, C_SFIB, C_SBIF, C_SBIB, C_TOTAL), True,
                ["Pump Port 1", "Theory"], "(c)", -68, True, True, False)
pdd = make_panel(th_series(D_SFIF, D_SFIB, D_SBIF, D_SBIB, D_TOTAL), True,
                 ["Pump Port 2", "Theory"], "(d)", -27, False, True, False)

chart = alt.concat(pa, pb, pc, pdd, columns=2, spacing={"row": 15, "column": 37},
                   bounds="flush").properties(padding=0).configure_view(
    stroke="#222", strokeWidth=1.2)

chart.save("out.html", embed_options={"renderer": "svg", "actions": False})
